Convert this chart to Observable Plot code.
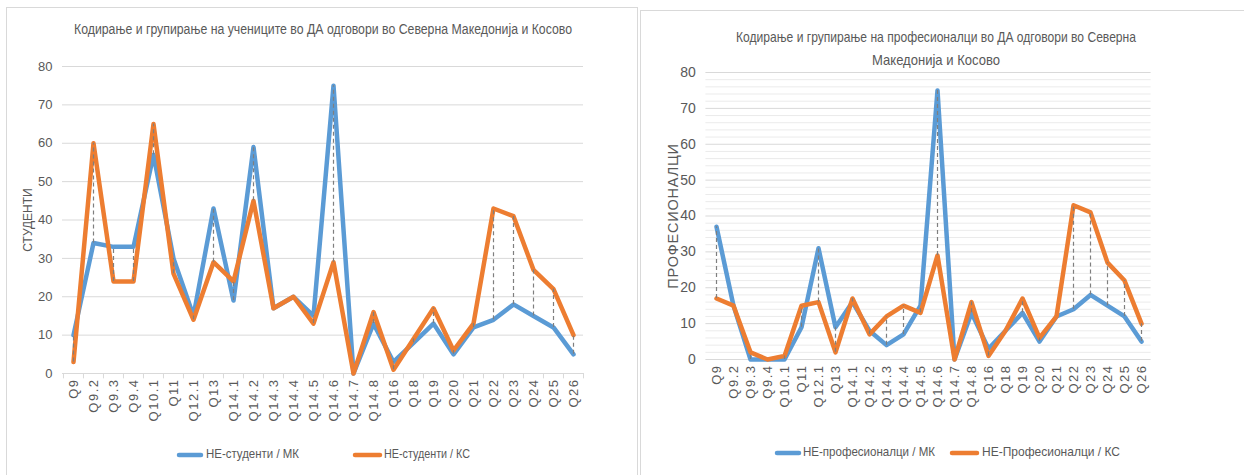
<!DOCTYPE html>
<html><head><meta charset="utf-8">
<script src="https://cdn.jsdelivr.net/npm/d3@7"></script>
<script src="https://cdn.jsdelivr.net/npm/@observablehq/plot@0.6"></script>
<style>
body{margin:0;background:#fff;}
#wrap{position:relative;width:1244px;height:475px;overflow:hidden;font-family:"Liberation Sans",Arial,sans-serif;background:#fff;}
.panel{position:absolute;border:1px solid #d9d9d9;box-sizing:border-box;}
.chart{position:absolute;top:0;}
#overlay{position:absolute;left:0;top:0;pointer-events:none;}
</style></head><body><div id="wrap"></div><script>
const categories = ["Q9","Q9.2","Q9.3","Q9.4","Q10.1","Q11","Q12.1","Q13","Q14.1","Q14.2","Q14.3","Q14.4","Q14.5","Q14.6","Q14.7","Q14.8","Q16","Q18","Q19","Q20","Q21","Q22","Q23","Q24","Q25","Q26"];
const studentsMK = [10,34,33,33,57,30,15,43,19,59,17,20,15,75,0,13,3,8,13,5,12,14,18,15,12,5];
const studentsKS = [3,60,24,24,65,26,14,29,24,45,17,20,13,29,0,16,1,9,17,6,13,43,41,27,22,10];
const profMK = [37,15,0,0,0,9,31,9,16,8,4,7,15,75,0,13,3,8,13,5,12,14,18,15,12,5];
const profKS = [17,15,2,0,1,15,16,2,17,7,12,15,13,29,0,16,1,8,17,6,12,43,41,27,22,10];
const yTicks = [0,10,20,30,40,50,60,70,80];
const yMinor = d3.range(0,81,2).filter(v => v % 10 !== 0);

const BLUE = "#5B9BD5", ORANGE = "#ED7D31", GRID = "#d9d9d9", TXT = "#595959";

function makeChart(o) {
  const rows = categories.map((c,i) => ({cat:c, mk:o.mk[i], ks:o.ks[i]}));
  const step = (o.W - o.mL - o.mR) / categories.length;
  const marks = [];
  if (o.minor) marks.push(Plot.ruleY(yMinor, {y: d => d, stroke: "#ebebeb"}));
  marks.push(Plot.ruleY(yTicks, {y: d => d, stroke: GRID}));
  if (o.boundaryTicks) {
    marks.push(Plot.ruleX(categories, {x: d => d, y1: 0, y2: -1.4, stroke: GRID, dx: -step/2}));
    marks.push(Plot.ruleX([categories[categories.length-1]], {x: d => d, y1: 0, y2: -1.4, stroke: GRID, dx: step/2}));
  }
  marks.push(
    Plot.axisY({ticks: yTicks, tickSize: 0, tickPadding: o.tickPadY, fontSize: o.fsY, label: null}),
    Plot.axisX({tickSize: 0, tickRotate: -90, tickPadding: 5, fontSize: o.fsX, label: null}),
    Plot.text([o.yLabel], {frameAnchor: "left", rotate: -90, dx: -o.labelOffset, textAnchor: "middle", fontSize: o.fsLabel, fill: TXT}),
    Plot.line(rows, {x: "cat", y: "mk", stroke: BLUE, strokeWidth: 4.5}),
    Plot.line(rows, {x: "cat", y: "ks", stroke: ORANGE, strokeWidth: 4.5}),
    Plot.ruleX(rows, {x: "cat", y1: d => Math.min(d.mk, d.ks), y2: d => Math.max(d.mk, d.ks), stroke: "#7f7f7f", strokeWidth: 1.2, strokeDasharray: "4,3"})
  );
  const svg = Plot.plot({
    width: o.W, height: o.H,
    marginLeft: o.mL, marginRight: o.mR, marginTop: o.mT, marginBottom: o.mB,
    style: {fontFamily: '"Liberation Sans", Arial, sans-serif', color: TXT, background: "transparent", overflow: "visible"},
    x: {type: "point", domain: categories, padding: 0.5},
    y: {domain: [0, 80]},
    marks
  });
  svg.querySelectorAll('[aria-label="x-axis tick label"] text').forEach(t => t.setAttribute("letter-spacing", o.lsX));
  svg.querySelectorAll('[aria-label="text"] text').forEach(t => t.setAttribute("letter-spacing", o.lsLabel));
  svg.querySelectorAll('text').forEach(t => { if (!t.getAttribute("fill")) t.setAttribute("fill", TXT); });
  return svg;
}

const wrap = document.getElementById("wrap");
function panel(x, y, w, h) {
  const d = document.createElement("div");
  d.className = "panel";
  Object.assign(d.style, {left: x + "px", top: y + "px", width: w + "px", height: h + "px"});
  wrap.appendChild(d);
}
panel(6, 7, 632, 480);
panel(640, 10, 620, 480);

const left = makeChart({W: 620, H: 460, mL: 62, mR: 37, mT: 66, mB: 87,
  mk: studentsMK, ks: studentsKS, yLabel: "СТУДЕНТИ", labelOffset: 34,
  tickPadY: 10, fsY: 13, fsX: 13, lsX: 1.5, fsLabel: 12, lsLabel: 0, boundaryTicks: true, minor: false});
left.classList.add("chart"); left.style.left = "0px";
wrap.appendChild(left);

const right = makeChart({W: 604, H: 460, mL: 65.4, mR: 93.4, mT: 72, mB: 101,
  mk: profMK, ks: profKS, yLabel: "ПРОФЕСИОНАЛЦИ", labelOffset: 33,
  tickPadY: 10, fsY: 14, fsX: 13, lsX: 1.5, fsLabel: 14.5, lsLabel: 0.8, boundaryTicks: false, minor: true});
right.classList.add("chart"); right.style.left = "640px";
wrap.appendChild(right);

// titles and legends
const ov = d3.select(wrap).append("svg").attr("id", "overlay").attr("width", 1244).attr("height", 475)
  .style("font-family", '"Liberation Sans", Arial, sans-serif');
function txt(s, x, y, len, fs, anchor) {
  ov.append("text").text(s).attr("x", x).attr("y", y).attr("font-size", fs).attr("fill", TXT)
    .attr("text-anchor", anchor || "middle").attr("dominant-baseline", "middle")
    .attr("textLength", len).attr("lengthAdjust", "spacingAndGlyphs");
}
txt("Кодирање и групирање на учениците во ДА одговори во Северна Македонија и Косово", 323, 30, 498, 14);
txt("Кодирање и групирање на професионалци во ДА одговори во Северна", 936, 38, 400, 15);
txt("Македонија и Косово", 936, 61, 128, 15);

function legendItem(x1, x2, tx, len, color, label, y) {
  ov.append("line").attr("x1", x1).attr("x2", x2).attr("y1", y).attr("y2", y)
    .attr("stroke", color).attr("stroke-width", 4.5).attr("stroke-linecap", "round");
  txt(label, tx, y, len, 13, "start");
}
legendItem(179, 201, 206, 93, BLUE, "НЕ-студенти / МК", 455);
legendItem(355, 380, 384, 86, ORANGE, "НЕ-студенти / КС", 455);
legendItem(777, 799, 803, 132, BLUE, "НЕ-професионалци / МК", 453);
legendItem(952, 977, 982, 138, ORANGE, "НЕ-Професионалци / КС", 453);
</script></body></html>
